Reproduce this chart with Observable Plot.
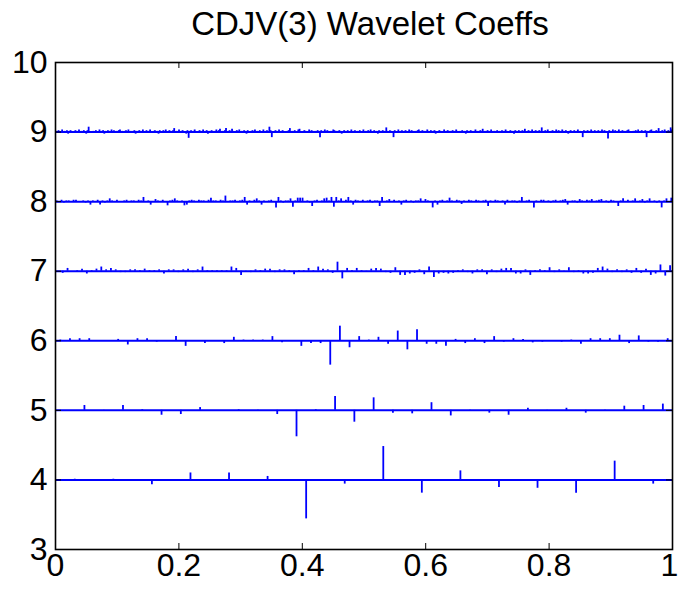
<!DOCTYPE html>
<html><head><meta charset="utf-8">
<script src="https://cdn.jsdelivr.net/npm/d3@7"></script>
<script src="https://cdn.jsdelivr.net/npm/@observablehq/plot@0.6"></script>
<style>
body{margin:0;background:#fff;}
#wrap{position:relative;width:678px;height:594px;font-family:"Liberation Sans",Arial,Helvetica,sans-serif;}
#title{position:absolute;left:0;top:7px;width:740px;text-align:center;font-size:33px;line-height:33px;color:#000;white-space:nowrap;}
#wrap svg{position:absolute;left:0;top:0;}
</style></head><body>
<div id="wrap"><div id="title"></div></div>
<script>
const titleText = "CDJV(3) Wavelet Coeffs";
const levels = [4, 5, 6, 7, 8, 9];
const xTicks = [0, 0.2, 0.4, 0.6, 0.8, 1];
const xTickLabels = ["0", "0.2", "0.4", "0.6", "0.8", "1"];
const yTicks = [3, 4, 5, 6, 7, 8, 9, 10];
const yTickLabels = ["3", "4", "5", "6", "7", "8", "9", "10"];

// scaled wavelet coefficients, in hundredths of one level spacing
const coef4 = [1, 1, -7, 10, 10, 5, -56, -6, 48, -19, 13, -11, -12, -19, 27, -6];
const coef5 = [0, 7, -1, 7, 1, -7, -6, 4, 0, 1, -1, -6, -38, 1, 20, -17,
  18, -4, -5, 11, -8, -1, -4, -7, 3, -1, 3, -4, -1, 6, 7, 9];
const coef6 = [1, 3, 3, 3, 0, 0, 2, -6, 3, 3, -2, 0, 6, -8, 0, -4,
  0, -4, 5, 1, 1, 1, 6, -3, 0, -8, -4, -4, -35, 21, -10, 6,
  1, 5, -5, 14, -13, 16, -5, -5, -8, 2, -4, 3, -4, 6, -2, 3,
  2, -3, -2, 0, -2, 1, -5, 3, 3, 3, 8, -4, 7, -2, -2, 3];
const coef7 = [0, -3, 4, 0, 1, 3, -4, 1, 3, 6, 2, 4, 2, -2, -2, 2,
  2, 1, 3, 1, 1, 2, -4, 2, 2, -2, 2, 3, -2, 2, 6, 1,
  1, 1, 1, 1, 6, 4, -6, -2, -2, 2, 1, 3, 3, -2, 2, 2,
  1, -5, 1, 1, 4, 1, 6, 3, 2, -3, 13, -11, 4, 1, 4, 1,
  -1, 3, 4, 3, -2, -3, 5, -6, -6, -4, -3, 2, -5, 6, -9, -4,
  -3, -4, -3, 1, 2, -2, -4, 2, 2, -5, 2, -2, 3, 4, 4, -4,
  -4, 2, -6, 1, 2, 1, 5, -2, 2, -2, 5, -2, 1, -4, -4, -3,
  4, 6, 3, -2, 2, -2, 2, -3, 4, -3, 3, -6, -4, 9, -7, 8];
const coef8 = [1, -1, 2, -2, 1, 1, -1, 2, 2, -1, -1, 1, -2, 1, -5, 1,
  -1, 2, -5, 1, -2, 1, 4, 1, -1, 2, -1, -1, 1, 2, -1, 1,
  1, -1, 2, 1, 6, -1, 1, -5, -1, 3, 1, -1, 2, -1, -6, 1,
  2, 4, 1, -1, 1, -6, -5, 1, 2, 1, -1, 2, 1, 1, -1, 2,
  5, 1, 1, -1, 2, 1, 8, -1, 1, 1, 2, -1, 1, 2, 6, -5,
  1, -1, 2, 4, 1, -5, 1, -1, 1, 2, -1, -9, 6, 1, -2, 1,
  1, 4, -8, 1, 5, 5, 5, -1, 1, -2, -7, 1, 2, -1, 1, 4,
  5, 1, 6, -8, 6, 1, 4, -1, 2, 6, 1, -5, 2, 1, -1, 2,
  -1, 1, 2, -2, 1, 1, -7, 6, -1, 1, 3, -1, 2, -1, 1, -5,
  1, 2, -1, 1, -2, 1, 1, 4, -1, 3, 1, -1, -9, 1, -5, 1,
  2, -1, 1, 5, 1, -1, 2, 1, -4, 1, -1, 2, 1, -1, 2, 1,
  -1, 1, 2, -7, 1, -1, 2, 1, -1, 1, -5, 2, -1, 1, 1, -2,
  1, 6, -1, 1, 2, -1, -9, 1, -1, 2, 2, -1, 1, -2, 1, 2,
  -1, 1, 2, 3, -5, -1, 1, 1, -2, 3, 1, -1, 2, 1, 3, -1,
  1, 2, 3, -1, 1, -2, 2, 1, -1, -7, 1, 4, -1, 2, -1, 1,
  4, -1, 1, 3, -2, 1, 4, -1, 1, -2, 1, -9, 1, 4, -1, 5];
const coef9 = [1, -2, 2, -1, 1, 3, -2, 1, -1, 2, -3, 1, 2, -1, 1, -2,
  2, 1, -1, 3, -2, 1, -1, 2, 1, -3, 2, 7, -1, 1, -2, 1,
  -1, 2, 1, -2, 3, -1, 1, 2, -3, 1, -1, 2, 1, -2, 3, -1,
  2, -1, 1, -2, 2, 3, -1, 1, -2, 1, 2, -1, 3, -2, 1, -1,
  1, 2, -3, 1, -1, 2, 1, -2, 3, 1, -1, 2, -2, 1, 3, -1,
  -2, 1, 2, -1, 1, -3, 2, 1, -1, 2, -2, 3, 1, -1, 2, 1,
  -1, 2, 5, -2, 1, -1, 3, -2, 1, 2, -1, 1, -3, 2, -9, 1,
  2, -1, 1, 3, -2, 1, -1, 2, 1, -2, 3, -1, 1, 2, -3, 1,
  -1, 2, 1, -2, 1, 3, -1, 2, 4, -1, 1, -2, 2, 5, -1, 1,
  2, -1, 4, 1, -2, 1, 2, -1, 3, -2, 1, -1, 2, 1, -3, 2,
  1, -2, 1, 2, -1, 3, -1, 1, -2, 2, 1, -1, 3, -2, 1, 2,
  -1, 7, 2, -8, 1, -1, 2, 1, -2, 3, -1, 1, 2, -1, 1, -2,
  1, 2, 5, -1, 1, -2, 2, 1, -1, 3, 4, -2, 1, -1, 2, 1,
  -2, 1, 3, -1, 2, 1, -2, 1, -1, 2, 1, -8, 2, -1, 1, 3,
  -1, 2, 1, -2, 1, -1, 3, 2, -1, 1, -2, 2, 1, -3, 1, 2,
  1, -1, 2, 1, -2, 3, -1, 1, 2, -1, 1, -2, 2, 1, -1, 3,
  -2, 1, 1, 2, -1, 3, -2, 1, 2, -1, 1, -3, 2, 1, -1, 2,
  1, -1, 6, 1, -2, 2, 1, -1, -8, 2, 1, -1, 3, -2, 1, 2,
  -1, 1, 2, -2, 1, 3, -1, 2, 1, -2, 1, -1, 2, 3, -1, 1,
  2, -1, 1, -2, 3, 1, -1, 2, -1, 1, 2, -3, 1, -1, 2, 1,
  -2, 1, 3, -1, 1, 2, -1, 1, -2, 2, 1, -1, 3, 1, -2, 1,
  1, 2, -1, 1, -3, 2, 1, -1, 2, 1, -2, 1, 3, -1, 1, -2,
  2, 1, 4, -1, 1, -2, 2, 1, -1, 3, -2, 1, 1, -1, 2, -1,
  1, -2, 2, 1, -1, 3, 1, -2, 1, 2, -1, 1, -3, 2, 1, -1,
  2, -1, 1, 2, -2, 4, 1, -1, 2, 1, -2, 3, -1, 1, 2, -1,
  1, 2, -1, 6, -2, 1, 2, -1, 3, 1, -2, 1, 2, -1, 1, 3,
  -1, 2, 1, -2, 3, 1, -1, 2, 1, -3, 1, 2, -1, 1, 2, -2,
  1, 3, -1, 1, -2, -8, 2, 1, -1, 2, 1, -2, 3, 1, -1, 2,
  -1, 1, 2, -2, 1, 3, -1, 2, 1, -1, -10, 2, 1, -2, 3, 1,
  2, -1, 1, 3, -2, 1, 2, -1, 1, -2, 2, 3, -1, 1, -2, 1,
  1, 2, -1, 3, -2, 1, 2, -1, 1, 2, -8, 1, -1, 2, 3, -2,
  1, -1, 2, 1, 5, -2, 1, 2, -1, 3, 1, -2, 2, 1, 6, 3];

const coefSets = [coef4, coef5, coef6, coef7, coef8, coef9];
const spikes = levels.flatMap((lev, i) => {
  const c = coefSets[i];
  return c.map((v, k) => ({level: lev, t: (k + 0.5) / c.length, top: lev + v / 100}));
});
const xLabelRows = xTicks.map((d, i) => ({x: d, label: xTickLabels[i]}));
const xLabelsInner = xLabelRows.slice(0, -1);
const xLabelLast = xLabelRows.slice(-1);

document.getElementById("title").textContent = titleText;

const W = 678, H = 594;
const mL = 55, mR = 6, mT = 62, mB = 45;
const fw = W - mL - mR, fh = H - mT - mB;
const tickLen = 6;
const blue = "#0000ff";
const font = "'Liberation Sans', Arial, Helvetica, sans-serif";

const chart = Plot.plot({
  width: W,
  height: H,
  marginLeft: mL, marginRight: mR, marginTop: mT, marginBottom: mB,
  style: {fontFamily: font, fontSize: "32px", color: "#000", background: "transparent", overflow: "visible"},
  x: {domain: [0, 1], axis: null},
  y: {domain: [3, 10], ticks: yTicks, tickSize: 0, tickPadding: 8, label: null,
      tickFormat: d => yTickLabels[yTicks.indexOf(d)]},
  marks: [
    Plot.ruleY(levels, {y: d => d, x1: 0, x2: 1, stroke: blue, strokeWidth: 2}),
    Plot.ruleX(spikes, {x: "t", y1: "level", y2: "top", stroke: blue, strokeWidth: 1.8}),
    Plot.ruleX(xTicks, {x: d => d, insetTop: fh - tickLen, stroke: "#000", strokeWidth: 1}),
    Plot.ruleX(xTicks, {x: d => d, insetBottom: fh - tickLen, stroke: "#000", strokeWidth: 1}),
    Plot.ruleY(yTicks, {y: d => d, insetRight: fw - tickLen, stroke: "#000", strokeWidth: 1}),
    Plot.ruleY(yTicks, {y: d => d, insetLeft: fw - tickLen, stroke: "#000", strokeWidth: 1}),
    Plot.frame({stroke: "#000", strokeWidth: 1.6}),
    Plot.text(xLabelsInner, {x: "x", text: "label", frameAnchor: "bottom", lineAnchor: "top", dy: 4, fontSize: 32, fill: "#000"}),
    Plot.text(xLabelLast, {x: "x", text: "label", frameAnchor: "bottom", lineAnchor: "top", dy: 4, dx: -3, fontSize: 32, fill: "#000"})
  ]
});
document.getElementById("wrap").appendChild(chart);
</script>
</body></html>
